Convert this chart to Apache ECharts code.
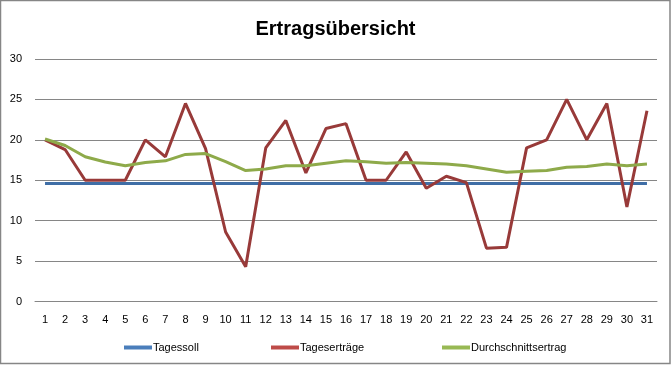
<!DOCTYPE html>
<html>
<head>
<meta charset="utf-8">
<script src="https://cdn.jsdelivr.net/npm/echarts@6/dist/echarts.min.js"></script>
<style>
html,body{margin:0;padding:0;background:#fff;}
#c{width:671px;height:370px;}
</style>
</head>
<body>
<div id="c"></div>
<script>
const days = ['1','2','3','4','5','6','7','8','9','10','11','12','13','14','15','16','17','18','19','20','21','22','23','24','25','26','27','28','29','30','31'];
const tagessoll = [14.6,14.6,14.6,14.6,14.6,14.6,14.6,14.6,14.6,14.6,14.6,14.6,14.6,14.6,14.6,14.6,14.6,14.6,14.6,14.6,14.6,14.6,14.6,14.6,14.6,14.6,14.6,14.6,14.6,14.6,14.6];
const tagesertraege = [20.0,18.8,15.0,15.0,15.0,20.0,17.9,24.5,18.9,8.6,4.3,19.0,22.4,15.9,21.4,22.0,15.0,15.0,18.5,14.0,15.5,14.7,6.6,6.7,19.0,20.0,25.0,20.0,24.5,11.7,23.6];
const durchschnitt = [20.1,19.3,17.9,17.25,16.8,17.2,17.4,18.2,18.3,17.3,16.2,16.4,16.8,16.8,17.1,17.4,17.3,17.1,17.2,17.1,17.0,16.8,16.4,16.0,16.1,16.2,16.6,16.7,17.0,16.8,17.0];
const yTicks = {min:0, max:30, interval:5};

const FONT = 'Liberation Sans';
const chart = echarts.init(document.getElementById('c'), null, {renderer:'canvas'});
const legendBase = {
  orient:'horizontal', top:342, padding:0, icon:'rect', itemWidth:28, itemHeight:4, itemGap:2,
  textStyle:{fontFamily:FONT, fontSize:11, color:'#000', padding:[0,0,0,-4]}
};
chart.setOption({
  animation:false,
  backgroundColor:'#fff',
  title:{text:'Ertragsübersicht', left:'center', top:14,
    textStyle:{fontFamily:FONT, fontSize:20, fontWeight:'bold', color:'#000'}},
  graphic:[{type:'rect', shape:{x:0.5,y:0.5,width:669.5,height:363}, style:{fill:'none', stroke:'#868686', lineWidth:1.5}, silent:true}],
  grid:{left:35, right:14, top:59, bottom:68.5, containLabel:false},
  legend:[
    Object.assign({}, legendBase, {left:124, data:['Tagessoll']}),
    Object.assign({}, legendBase, {left:271, data:['Tageserträge']}),
    Object.assign({}, legendBase, {left:442, data:['Durchschnittsertrag']})
  ],
  xAxis:{type:'category', data:days, boundaryGap:true,
    axisLine:{show:true, lineStyle:{color:'#868686', width:1}},
    axisTick:{show:false},
    axisLabel:{fontFamily:FONT, fontSize:11, color:'#000', margin:13, interval:0}},
  yAxis:{type:'value', min:yTicks.min, max:yTicks.max, interval:yTicks.interval,
    axisLine:{show:false}, axisTick:{show:false},
    splitLine:{lineStyle:{color:'#868686', width:1}},
    axisLabel:{fontFamily:FONT, fontSize:11, color:'#000', margin:13}},
  series:[
    {name:'Tagessoll', type:'line', data:tagessoll, symbol:'none', lineStyle:{color:'#3F6EA6', width:3}, itemStyle:{color:'#4A7EBB'}},
    {name:'Tageserträge', type:'line', data:tagesertraege, symbol:'none', lineStyle:{color:'#983A39', width:3}, itemStyle:{color:'#BE4B48'}},
    {name:'Durchschnittsertrag', type:'line', data:durchschnitt, symbol:'none', lineStyle:{color:'#8EAA4A', width:3}, itemStyle:{color:'#98B954'}}
  ]
});
</script>
</body>
</html>
